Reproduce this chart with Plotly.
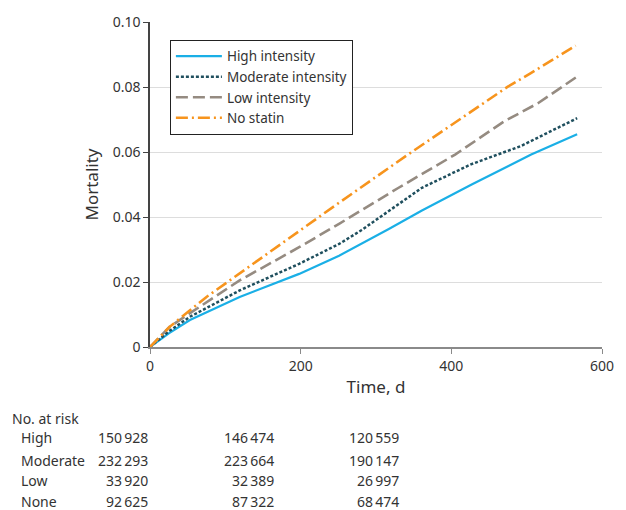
import plotly.graph_objects as go

# ---- data ----
high_t = [0, 25, 53, 119, 198, 251, 317, 361, 427, 506, 567]
high_v = [0, 0.0042, 0.0083, 0.0154, 0.0225, 0.0281, 0.0363, 0.0420, 0.0500, 0.0592, 0.0655]
mod_t = [0, 25, 53, 119, 198, 251, 281, 361, 426, 492, 567]
mod_v = [0, 0.0048, 0.0093, 0.0174, 0.0256, 0.0317, 0.0360, 0.0490, 0.0562, 0.0618, 0.0704]
low_t = [0, 26, 53, 119, 198, 251, 330, 405, 470, 515, 567]
low_v = [0, 0.0062, 0.0104, 0.0205, 0.0307, 0.0379, 0.0490, 0.0592, 0.0694, 0.0750, 0.0832]
none_t = [0, 26, 75, 198, 251, 343, 400, 475, 505, 565]
none_v = [0, 0.0062, 0.0154, 0.0358, 0.0444, 0.0593, 0.0683, 0.0801, 0.0842, 0.0927]

series_names = ["High intensity", "Moderate intensity", "Low intensity", "No statin"]
x_ticks = [0, 200, 400, 600]
y_ticks = [0, 0.02, 0.04, 0.06, 0.08, 0.10]
y_ticktext = ["0", "0.02", "0.04", "0.06", "0.08", "0.10"]

risk_groups = ["High", "Moderate", "Low", "None"]
risk_high = ["150\u2009928", "146\u2009474", "120\u2009559"]
risk_mod = ["232\u2009293", "223\u2009664", "190\u2009147"]
risk_low = ["33\u2009920", "32\u2009389", "26\u2009997"]
risk_none = ["92\u2009625", "87\u2009322", "68\u2009474"]

FONT = "Noto Sans"
TXT = "#333333"

fig = go.Figure()
fig.add_trace(go.Scatter(x=high_t, y=high_v, mode="lines", name=series_names[0],
                         line=dict(color="#1AAFE6", width=2.2, dash="solid")))
fig.add_trace(go.Scatter(x=mod_t, y=mod_v, mode="lines", name=series_names[1],
                         line=dict(color="#1F4F5E", width=2.5, dash="3px,2px")))
fig.add_trace(go.Scatter(x=low_t, y=low_v, mode="lines", name=series_names[2],
                         line=dict(color="#958B81", width=2.6, dash="12px,5px")))
fig.add_trace(go.Scatter(x=none_t, y=none_v, mode="lines", name=series_names[3],
                         line=dict(color="#F7941D", width=2.6, dash="12px,4px,2px,4px")))

fig.update_layout(
    width=626, height=510,
    margin=dict(l=150, r=21, t=20, b=163),
    paper_bgcolor="white", plot_bgcolor="white",
    font=dict(family=FONT, size=14, color=TXT),
    showlegend=True,
    legend=dict(x=0.044, y=0.945, xanchor="left", yanchor="top",
                bordercolor="#222222", borderwidth=1, bgcolor="white",
                font=dict(size=13.5, color=TXT), tracegroupgap=0,
                itemwidth=46),
    xaxis=dict(range=[0, 600], tickvals=x_ticks, showgrid=False,
               showline=True, linecolor="#8a8a8a", linewidth=1.5,
               ticks="outside", ticklen=5, tickcolor="#8a8a8a",
               title=dict(text="Time, d", standoff=8), zeroline=False,
               tickfont=dict(size=14)),
    yaxis=dict(range=[0, 0.10], tickvals=y_ticks, ticktext=y_ticktext,
               showgrid=True, gridcolor="#dddddd", gridwidth=1,
               showline=True, linecolor="#444444", linewidth=1.5,
               ticks="outside", ticklen=5, tickcolor="#444444",
               title=dict(text="Mortality", standoff=10), zeroline=False,
               tickfont=dict(size=14)),
)

# No. at risk table
fig.add_annotation(text="No. at risk", xref="paper", yref="paper",
                   x=-141/455, y=-72/327, xanchor="left", yanchor="middle",
                   showarrow=False, font=dict(size=14, color=TXT))
row_y = [-91, -114, -134, -155]
rows = [risk_high, risk_mod, risk_low, risk_none]
col_right = [150, 277, 403]
for gi, g in enumerate(risk_groups):
    fig.add_annotation(text=g, xref="paper", yref="paper",
                       x=(18 - 150)/455, y=row_y[gi]/327, xanchor="left", yanchor="middle",
                       showarrow=False, font=dict(size=14, color=TXT))
    for ci, val in enumerate(rows[gi]):
        fig.add_annotation(text=val, xref="paper", yref="paper",
                           x=(col_right[ci] - 150)/455, y=row_y[gi]/327,
                           xanchor="right", yanchor="middle",
                           showarrow=False, font=dict(size=14, color=TXT))

fig.write_html("out.html", config={"displayModeBar": False},
               post_script="document.body.style.margin='0';")
